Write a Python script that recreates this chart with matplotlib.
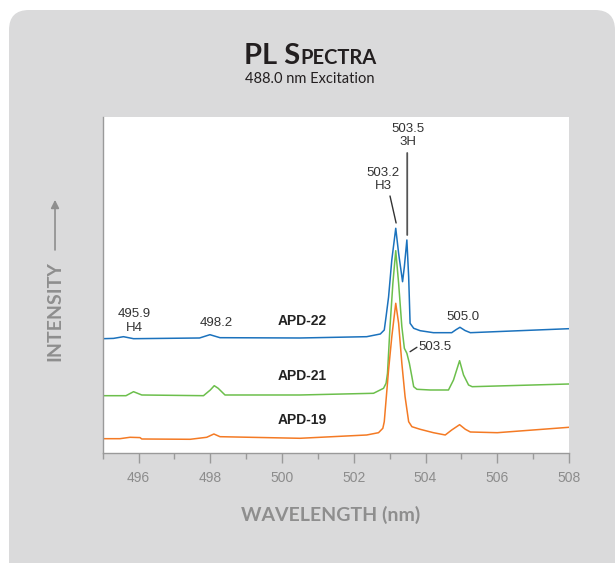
import matplotlib.pyplot as plt
from matplotlib.patches import FancyBboxPatch
from matplotlib.transforms import IdentityTransform

# PL spectra (intensity in arbitrary units, offset stacked)
wl_22 = [495.0, 495.3, 495.58, 495.86, 497.7, 497.99, 498.27, 500.5, 502.36, 502.74, 502.85,
         502.90, 502.97, 503.06, 503.17, 503.25, 503.36, 503.41, 503.48, 503.53, 503.57,
         503.67, 503.85, 504.22, 504.73, 504.85, 504.96, 505.1, 505.25, 508.0]
int_22 = [114.3, 114.6, 116.3, 114.3, 115.0, 118.3, 115.3, 115.0, 116.3, 119.0, 123.0,
          136.3, 156.0, 193.0, 224.7, 199.7, 171.3, 186.3, 213.0, 176.3, 129.7,
          124.7, 122.3, 120.3, 120.3, 123.3, 125.7, 122.5, 120.3, 124.3]

wl_21 = [495.0, 495.65, 495.86, 496.09, 497.81, 498.0, 498.11, 498.22, 498.41, 500.5, 502.55,
         502.83, 502.90, 502.94, 503.01, 503.09, 503.17, 503.25, 503.34, 503.41, 503.48,
         503.55, 503.62, 503.67, 503.76, 504.13, 504.64, 504.78, 504.95, 505.06, 505.2,
         505.3, 508.0]
int_21 = [57.3, 57.3, 61.3, 58.0, 57.3, 63.0, 67.3, 64.7, 58.0, 58.0, 59.7,
          64.7, 69.7, 79.7, 126.3, 169.7, 202.3, 169.7, 126.3, 104.7, 99.7,
          89.7, 76.3, 66.3, 63.7, 63.0, 63.0, 73.0, 92.3, 78.0, 68.0,
          66.3, 69.0]

wl_19 = [495.0, 495.48, 495.76, 496.04, 496.09, 497.44, 497.9, 498.1, 498.27, 500.5, 502.36,
         502.69, 502.81, 502.85, 502.90, 502.97, 503.06, 503.17, 503.25, 503.34, 503.43,
         503.53, 503.62, 503.85, 504.22, 504.55, 504.73, 504.95, 505.11, 505.25, 506.0,
         508.0]
int_19 = [14.3, 14.3, 15.7, 15.4, 14.0, 13.7, 15.7, 19.0, 16.3, 14.7, 18.0,
          20.3, 24.7, 31.3, 53.0, 83.0, 116.3, 149.7, 129.7, 89.7, 56.3,
          31.3, 26.3, 23.7, 20.3, 18.0, 23.0, 28.3, 23.7, 21.0, 20.3,
          25.7]

series_names = ['APD-22', 'APD-21', 'APD-19']
series_colors = ['#1b72bd', '#6cbf4c', '#f47a24']
name_pos = [(500.57, 132), (500.57, 76.5), (500.57, 32.5)]

x_ticks = [496, 498, 500, 502, 504, 506, 508]

panel = '#dadadb'
grey_txt = '#8e8e8e'
dark = '#333333'

fig = plt.figure(figsize=(6.16, 5.63), dpi=100)
fig.patch.set_facecolor('white')
fig.add_artist(FancyBboxPatch((9, -40), 606, 593, boxstyle='round,pad=0,rounding_size=20',
                              transform=IdentityTransform(), facecolor=panel, edgecolor='none',
                              zorder=-10))

ax = fig.add_axes([0.1667, 0.1954, 0.7570, 0.5968])
ax.set_facecolor('white')

for wl, it, c in zip([wl_22, wl_21, wl_19], [int_22, int_21, int_19], series_colors):
    ax.plot(wl, it, color=c, lw=1.1, solid_joinstyle='round')

for name, (x, y) in zip(series_names, name_pos):
    ax.text(x, y, name, ha='center', va='center', fontsize=10, fontweight='bold',
            family='Liberation Sans', color='#222222')

# peak labels
lab = dict(ha='center', va='center', fontsize=9.5, family='Liberation Sans', color=dark,
           linespacing=1.15)
ax.text(503.52, 317.5, '503.5\n3H', **lab)
ax.text(502.82, 273.5, '503.2\nH3', **lab)
ax.text(495.87, 132, '495.9\nH4', **lab)
ax.text(498.16, 130, '498.2', **lab)
ax.text(505.05, 136, '505.0', **lab)
ax.text(503.8, 106, '503.5', ha='left', va='center', fontsize=9.5,
        family='Liberation Sans', color=dark)

line = dict(arrowstyle='-', color=dark, lw=1.0, shrinkA=0, shrinkB=0)
ax.annotate('', xy=(503.49, 218), xytext=(503.49, 300),
            arrowprops=dict(line, color='#555555', lw=1.3))
ax.annotate('', xy=(503.18, 230), xytext=(503.01, 257), arrowprops=line)
ax.annotate('', xy=(503.57, 101.3), xytext=(503.76, 105.7), arrowprops=line)

ax.set_xlim(495, 508)
ax.set_ylim(0, 336)
ax.set_xticks(x_ticks)
ax.set_xticks(range(495, 509), minor=True)
ax.set_yticks([])
for s in ['top', 'right']:
    ax.spines[s].set_visible(False)
for s in ['left', 'bottom']:
    ax.spines[s].set_color('#9a9a9a')
    ax.spines[s].set_linewidth(1.0)
ax.tick_params(axis='x', which='major', direction='out', length=7, width=1.0,
               color='#9a9a9a', labelcolor='#8c8c8c', labelsize=10, pad=6)
ax.tick_params(axis='x', which='minor', direction='out', length=4, width=1.0, color='#9a9a9a')
for t in ax.get_xticklabels():
    t.set_family('Liberation Sans')

# title in small caps
fig.text(0.487, 0.8858, 'PL S', ha='right', va='baseline', fontsize=21, fontweight='bold',
         family='Lato', color='#231f20')
fig.text(0.487, 0.8858, 'PECTRA', ha='left', va='baseline', fontsize=14.5, fontweight='bold',
         family='Lato', color='#231f20')
fig.text(0.503, 0.852, '488.0 nm Excitation', ha='center', va='baseline', fontsize=10.5,
         family='Lato', color='#231f20')

fig.text(0.536, 0.085, 'WAVELENGTH (nm)', ha='center', va='center', fontsize=14,
         fontweight='bold', family='Lato', color=grey_txt)
fig.text(0.0893, 0.447, 'INTENSITY', ha='center', va='center', rotation=90, fontsize=14,
         fontweight='bold', family='Lato', color=grey_txt)
ax.annotate('', xy=(0.0893, 0.645), xytext=(0.0893, 0.556), xycoords='figure fraction',
            textcoords='figure fraction',
            arrowprops=dict(arrowstyle='-|>', color=grey_txt, lw=1.2, mutation_scale=12,
                            shrinkA=0, shrinkB=0))

fig.savefig('out.png', dpi=100)
